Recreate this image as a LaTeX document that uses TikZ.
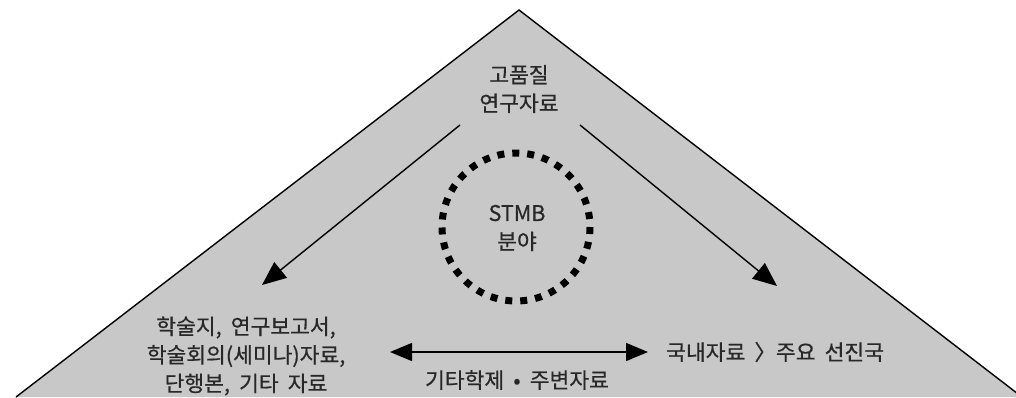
\documentclass[tikz,border=0pt]{standalone}
\usepackage{fontspec}
\setmainfont{Noto Sans CJK KR}[FakeBold=0.6, WordSpace=1.9]
\usetikzlibrary{arrows.meta}
\definecolor{tri}{RGB}{200,200,200}
\definecolor{txt}{RGB}{40,40,40}
\tikzset{
  lbl/.style={font=\fontsize{21.5}{28.5}\selectfont, align=center, inner sep=0pt, text=txt},
  arr/.style={line width=1.4pt, -{Triangle[length=24pt,width=20pt]}},
  darr/.style={line width=1.4pt, {Triangle[length=22pt,width=18pt]}-{Triangle[length=22pt,width=18pt]}},
}
\begin{document}
\begin{tikzpicture}[x=1pt,y=-1pt]
\useasboundingbox (0,0) rectangle (1016,397);
\begin{scope}
\clip (0,0) rectangle (1016,397);
\fill[tri] (16,397) -- (519,10) -- (1022,397) -- cycle;
\draw[line width=1.4pt, line join=miter] (16,397) -- (519,10) -- (1022,397);
\end{scope}
\node[lbl] (top) at (519,89) {고품질\\연구자료};
\node[lbl] (stmb) at (517,228) {STMB\\분야};
\draw[line width=7pt, dash pattern=on 7pt off 8pt] (516,227) circle[radius=74];
\node[lbl] (left) at (246,356) {학술지, 연구보고서,\\학술회의(세미나)자료,\\단행본, 기타 자료};
\node[lbl, anchor=west] (right) at (666,352) {국내자료 〉주요 선진국};
\node[lbl] (mid) at (517,380) {기타학제 • 주변자료};
\coordinate (tl) at (460,125);
\coordinate (tr) at (580,125);
\coordinate (al) at (262,285);
\coordinate (ar) at (777,286);
\coordinate (dl) at (390,352);
\coordinate (dr) at (648,352);
\draw[arr] (tl) -- (al);
\draw[arr] (tr) -- (ar);
\draw[darr] (dl) -- (dr);
\end{tikzpicture}
\end{document}
